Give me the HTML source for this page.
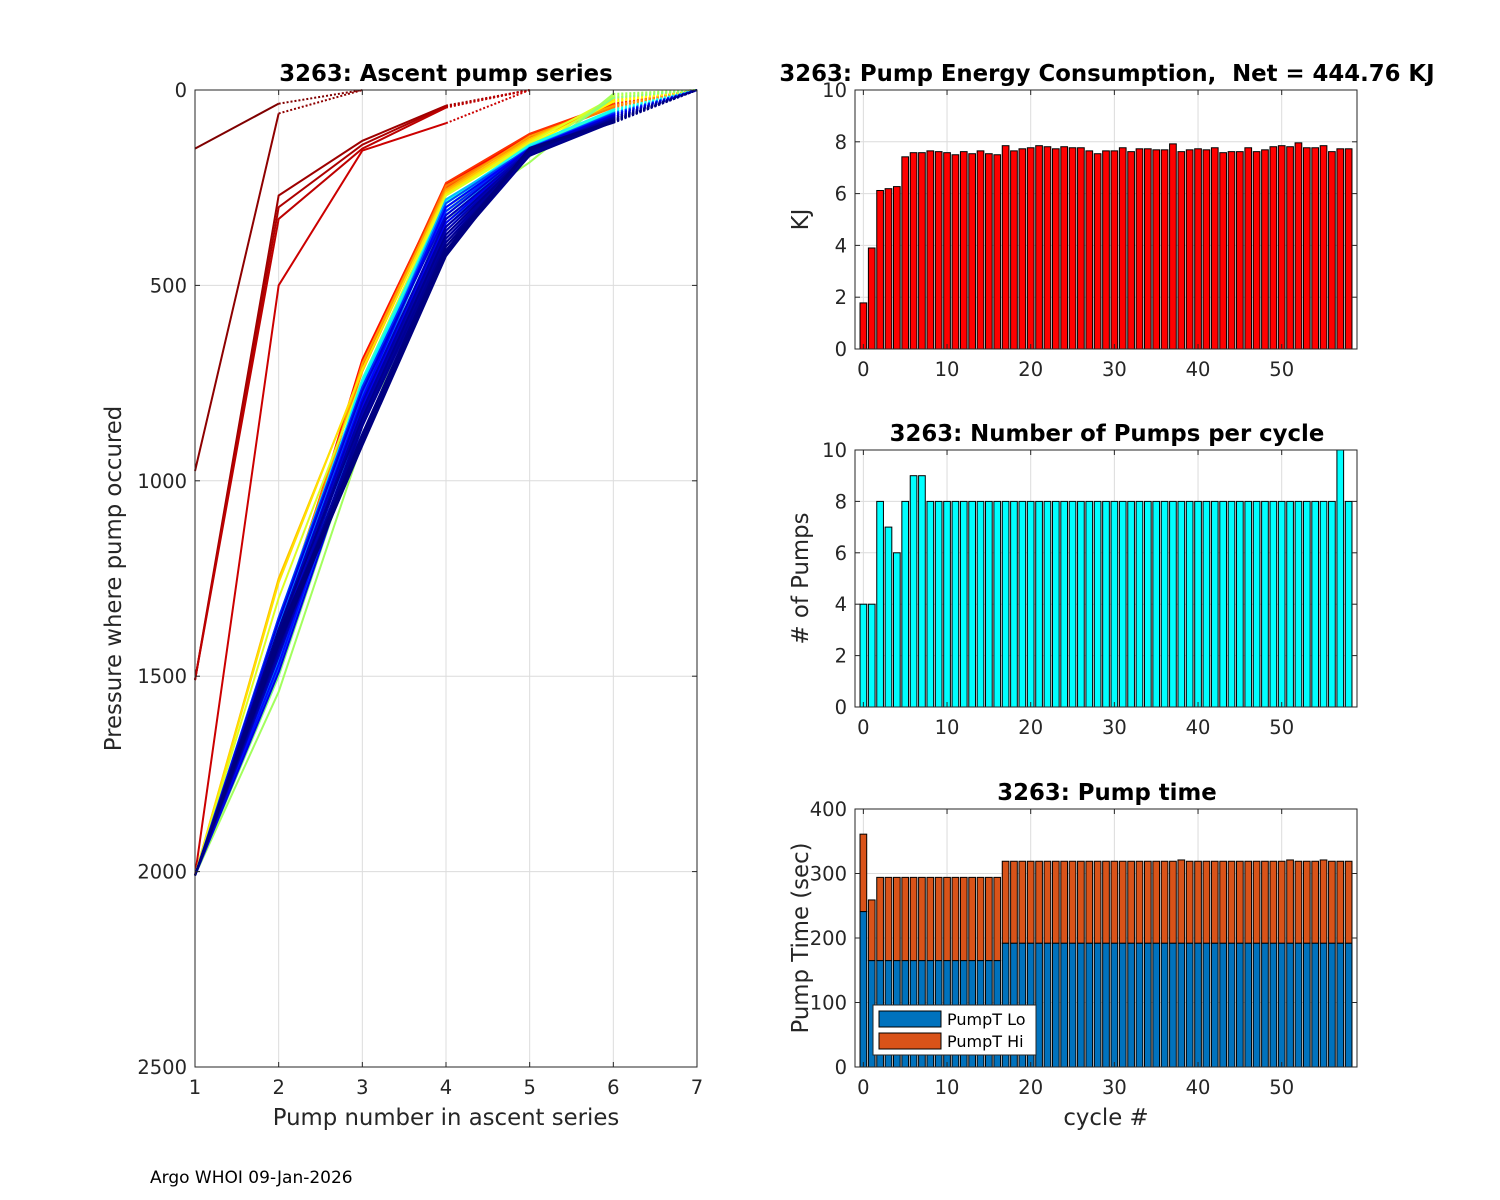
<!DOCTYPE html>
<html><head><meta charset="utf-8">
<style>
html,body{margin:0;padding:0;background:#fff;}
svg{display:block;font-family:"DejaVu Sans","Liberation Sans",sans-serif;}
text{white-space:pre;}
</style></head>
<body>
<svg id="fig" width="1500" height="1200" viewBox="0 0 1500 1200" xmlns="http://www.w3.org/2000/svg">
<rect width="1500" height="1200" fill="#fff"/>
<g id="ascent"></g>
<g id="energy"></g>
<g id="pumps"></g>
<g id="ptime"></g>
<text x="150" y="1183" font-size="17" fill="#000">Argo WHOI 09-Jan-2026</text>
</svg>
<script>
// ---- data ----
const energyKJ = [1.78,3.9,6.12,6.19,6.27,7.42,7.58,7.58,7.65,7.62,7.58,7.5,7.62,7.54,7.65,7.54,7.5,7.85,7.65,7.73,7.77,7.85,7.81,7.73,7.81,7.77,7.77,7.65,7.54,7.65,7.65,7.77,7.62,7.73,7.73,7.69,7.69,7.92,7.62,7.69,7.73,7.69,7.77,7.58,7.62,7.62,7.77,7.62,7.69,7.81,7.85,7.81,7.96,7.77,7.77,7.85,7.62,7.73,7.73];
const pumpCounts = [4,4,8,7,6,8,9,9,8,8,8,8,8,8,8,8,8,8,8,8,8,8,8,8,8,8,8,8,8,8,8,8,8,8,8,8,8,8,8,8,8,8,8,8,8,8,8,8,8,8,8,8,8,8,8,8,8,10,8];
const pumpTLo = [241,165,165,165,165,165,165,165,165,165,165,165,165,165,165,165,165,192,192,192,192,192,192,192,192,192,192,192,192,192,192,192,192,192,192,192,192,192,192,192,192,192,192,192,192,192,192,192,192,192,192,192,192,192,192,192,192,192,192];
const pumpTHi = [120,94,129,129,129,129,129,129,129,129,129,129,129,129,129,129,129,127,127,127,127,127,127,127,127,127,127,127,127,127,127,127,127,127,127,127,127,127,129,127,127,127,127,127,127,127,127,127,127,127,127,129,127,127,127,129,127,127,127];
const earlyProfiles = [
 [150,35,0],[975,60,0],[1510,270,130,40,0],[1510,300,140,42,0],[1510,330,150,45,0],[2010,500,155,85,0]
];
const mainProfiles = [
 [1380,700,240,115,40],[1390,690,245,118,38],[1370,705,238,112,35],[1400,710,250,120,42],[1360,720,245,125,45],
 [1410,700,255,118,40],[1250,720,260,125,30],[1260,715,265,130,25],[1420,760,270,140,30],[1300,740,270,135,20],
 [1450,800,300,160,15],[1540,900,330,185,10],[1500,860,310,170,20],[1380,780,280,150,50],[1360,760,300,145,55],
 [1400,770,290,150,60],[1390,740,285,140,50],[1420,790,310,150,55],[1350,750,300,145,60],[1380,760,320,155,62],
 [1410,780,280,150,58],[1440,810,330,160,65],[1370,770,310,150,60],[1460,830,340,165,70],[1400,800,300,150,65],
 [1480,850,350,165,72],[1390,780,290,148,60],[1420,820,360,158,70],[1350,760,310,150,62],[1430,800,330,160,68],
 [1470,840,370,165,72],[1380,790,300,150,64],[1400,810,340,155,70],[1490,860,380,168,75],[1360,770,320,150,66],
 [1420,820,350,160,72],[1450,850,390,165,76],[1380,800,330,155,70],[1410,830,360,160,74],[1440,860,400,168,78],
 [1390,820,350,156,72],[1420,850,380,160,76],[1400,880,410,165,80],[1430,860,390,162,78],[1380,840,370,158,76],
 [1410,890,415,168,82],[1400,900,420,150,80],[1420,880,400,155,78],[1390,900,420,152,82],[1410,910,425,150,84],
 [1400,890,410,148,80],[1420,905,420,152,82],[1400,900,420,150,80]
];
const ascentXTicks = [1,2,3,4,5,6,7];
const ascentYTicks = [0,500,1000,1500,2000,2500];
const cycleTicks = [0,10,20,30,40,50];
const energyTicks = [0,2,4,6,8,10];
const pumpTicks = [0,2,4,6,8,10];
const timeTicks = [0,100,200,300,400];

const NS = "http://www.w3.org/2000/svg";
const TICK_FS = 19.5, TITLE_FS = 22.8, LABEL_FS = 22.8;
function mk(parent, tag, attrs, text){
  const e = document.createElementNS(NS, tag);
  for (const k in attrs) e.setAttribute(k, attrs[k]);
  if (text !== undefined) e.textContent = text;
  parent.appendChild(e);
  return e;
}
function jet(t){
  function c(v){return Math.max(0,Math.min(1,v));}
  const r=c(1.5-Math.abs(4*t-3)), g=c(1.5-Math.abs(4*t-2)), b=c(1.5-Math.abs(4*t-1));
  return `rgb(${Math.round(r*255)},${Math.round(g*255)},${Math.round(b*255)})`;
}
const TXT = "#262626";

function axesFrame(g, L, T, R, B, xTicks, xs, yTicks, ys){
  for (const v of xTicks){
    const x = xs(v);
    const gl = mk(g,'line',{x1:x,x2:x,y1:T,y2:B,stroke:'#dcdcdc','stroke-width':1});
    
    
    const tl = mk(g,'text',{x:x,y:B+27,'font-size':TICK_FS,fill:TXT,'text-anchor':'middle'}, String(v));
    
    
  }
  for (const v of yTicks){
    const y = ys(v);
    const gl = mk(g,'line',{x1:L,x2:R,y1:y,y2:y,stroke:'#dcdcdc','stroke-width':1});
    
    
    const tl = mk(g,'text',{x:L-8,y:y+7,'font-size':TICK_FS,fill:TXT,'text-anchor':'end'}, String(v));
    
    
  }
}
function axesBox(g, L, T, R, B, xTicks, xs, yTicks, ys){
  const box = mk(g,'rect',{x:L,y:T,width:R-L,height:B-T,fill:'none',stroke:TXT,'stroke-width':1});
  
  
  for (const v of xTicks){ const x=xs(v);
    mk(g,'line',{x1:x,x2:x,y1:B,y2:B-5,stroke:TXT}); mk(g,'line',{x1:x,x2:x,y1:T,y2:T+5,stroke:TXT}); }
  for (const v of yTicks){ const y=ys(v);
    mk(g,'line',{x1:L,x2:L+5,y1:y,y2:y,stroke:TXT}); mk(g,'line',{x1:R,x2:R-5,y1:y,y2:y,stroke:TXT}); }
}

// ---- Ascent chart ----
(function(){
  const g = document.getElementById('ascent');
  const L=195,R=697,T=90,B=1067;
  const xs = v => L + (v-1)/6*(R-L);
  const ys = v => T + v/2500*(B-T);
  axesFrame(g,L,T,R,B,ascentXTicks,xs,ascentYTicks,ys);
  const ne = earlyProfiles.length, nm = mainProfiles.length;
  const all = earlyProfiles.map((p,i)=>({p, t: 1 - i*0.015}))
    .concat(mainProfiles.map((p,i)=>({p:[2010].concat(p).concat([0]), t: 0.9*Math.pow(1 - i/(nm-1), 2.2)})));
  all.forEach(o=>{
    const p = o.p;
    const col = jet(o.t);
    const k = p.length;
    const pts = p.map((v,j)=>[xs(1+j), ys(v)]);
    const solid = pts.slice(0,k-1).map(q=>q.join(',')).join(' ');
    const pl = mk(g,'polyline',{points:solid,fill:'none',stroke:col,'stroke-width':2});
    
    
    const d = mk(g,'line',{x1:pts[k-2][0],y1:pts[k-2][1],x2:pts[k-1][0],y2:pts[k-1][1],stroke:col,'stroke-width':2,'stroke-dasharray':'2,2'});
    
    
  });
  axesBox(g,L,T,R,B,ascentXTicks,xs,ascentYTicks,ys);
  const t = mk(g,'text',{x:(L+R)/2,y:81,'font-size':TITLE_FS,'font-weight':'bold','text-anchor':'middle',fill:'#000'},'3263: Ascent pump series');
   
  const xl = mk(g,'text',{x:(L+R)/2,y:1125,'font-size':LABEL_FS,'text-anchor':'middle',fill:TXT},'Pump number in ascent series');
   
  const yl = mk(g,'text',{x:0,y:0,'font-size':LABEL_FS,'text-anchor':'middle',fill:TXT,transform:`translate(121,${(T+B)/2}) rotate(-90)`},'Pressure where pump occured');
   
})();

// ---- bar charts ----
function barChart(id, T, B, ymax, yTicks, title, ylabel, series, colors, names){
  const g = document.getElementById(id);
  const L=855,R=1357;
  const xs = v => L + (v+1)/60*(R-L);
  const ys = v => B - v/ymax*(B-T);
  axesFrame(g,L,T,R,B,cycleTicks,xs,yTicks,ys);
  const w = 0.8*(R-L)/60;
  for (let i=0;i<series[0].length;i++){
    let base=0;
    series.forEach((s,si)=>{
      const y0=ys(base), y1=ys(base+s[i]);
      const r = mk(g,'rect',{x:xs(i)-w/2,y:y1,width:w,height:y0-y1,fill:colors[si],stroke:'#000','stroke-width':1});
      
      
      base += s[i];
    });
  }
  axesBox(g,L,T,R,B,cycleTicks,xs,yTicks,ys);
  const t = mk(g,'text',{x:(L+R)/2+1,y:T-9,'font-size':TITLE_FS,'font-weight':'bold','text-anchor':'middle',fill:'#000'},title);
   
  const yl = mk(g,'text',{x:0,y:0,'font-size':LABEL_FS,'text-anchor':'middle',fill:TXT,transform:`translate(${L-47},${(T+B)/2}) rotate(-90)`},ylabel);
   
  return {g,L,R,T,B};
}
barChart('energy',90,349,10,energyTicks,'3263: Pump Energy Consumption,  Net = 444.76 KJ','KJ',[energyKJ],['#ff0000'],['energy-bar']);
barChart('pumps',450,707,10,pumpTicks,'3263: Number of Pumps per cycle','# of Pumps',[pumpCounts],['#00ffff'],['pumps-bar']);
const pt = barChart('ptime',809,1067,400,timeTicks,'3263: Pump time','Pump Time (sec)',[pumpTLo,pumpTHi],['#0072bd','#d95319'],['pumpt-lo-bar','pumpt-hi-bar']);
(function(){
  const g = pt.g;
  const xl = mk(g,'text',{x:(pt.L+pt.R)/2,y:1125,'font-size':LABEL_FS,'text-anchor':'middle',fill:TXT},'cycle #');
   
  const lg = mk(g,'g',{});
   
  mk(lg,'rect',{x:873,y:1005,width:163,height:50,fill:'#fff',stroke:TXT});
  mk(lg,'rect',{x:879,y:1011,width:62,height:16,fill:'#0072bd',stroke:'#000'});
  const a = mk(lg,'text',{x:947,y:1025,'font-size':16,fill:'#000'},'PumpT Lo');
   
  mk(lg,'rect',{x:879,y:1033,width:62,height:16,fill:'#d95319',stroke:'#000'});
  const b = mk(lg,'text',{x:947,y:1047,'font-size':16,fill:'#000'},'PumpT Hi');
   
})();
</script>
</body></html>
